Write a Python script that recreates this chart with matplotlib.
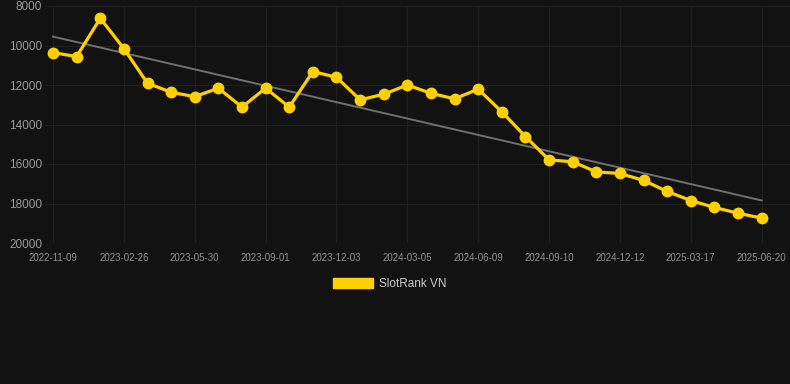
import numpy as np
import matplotlib.pyplot as plt
from matplotlib.patches import Patch

plt.rcParams['font.family'] = ['Liberation Sans', 'DejaVu Sans']

# rank values, one per period (31 points)
ranks = [10360, 10560, 8620, 10160, 11910, 12370, 12590, 12160, 13120, 12160,
         13120, 11320, 11610, 12750, 12470, 12000, 12420, 12700, 12210, 13360,
         14610, 15790, 15890, 16400, 16480, 16830, 17390, 17850, 18200, 18490,
         18740]
tick_labels = ['2022-11-09', '2023-02-26', '2023-05-30', '2023-09-01', '2023-12-03',
               '2024-03-05', '2024-06-09', '2024-09-10', '2024-12-12', '2025-03-17',
               '2025-06-20']
series_name = 'SlotRank VN'

bg = '#121212'
yellow = '#ffd000'

x = np.arange(len(ranks))

fig = plt.figure(figsize=(7.9, 3.84), dpi=100, facecolor=bg)
ax = fig.add_axes([45 / 790, (384 - 243) / 384, 745 / 790, 237 / 384])
ax.set_facecolor(bg)

# trend line
k, b = np.polyfit(x, ranks, 1)
ax.plot(x, k * x + b, color='#707070', lw=1.4, zorder=2)

ax.plot(x, ranks, color=yellow, lw=2.3, marker='o', ms=7.5, zorder=3)

ax.set_xlim(-0.34, 31.2)
ax.set_ylim(20000, 8000)
ax.set_yticks(range(8000, 20001, 2000))
ax.set_xticks(x[::3])
ax.set_xticklabels(tick_labels)

ax.grid(True, color='#202020', lw=0.8)
ax.set_axisbelow(True)
for s in ax.spines.values():
    s.set_visible(False)
ax.tick_params(axis='y', length=0, pad=2, labelsize=8.5, labelcolor='#9a9a9a')
ax.tick_params(axis='x', length=0, pad=7, labelsize=7, labelcolor='#8f8f8f')

leg = fig.legend(handles=[Patch(facecolor=yellow, edgecolor=yellow)], labels=[series_name],
                 loc='center', bbox_to_anchor=(390 / 790, 1 - 284 / 384),
                 frameon=False, fontsize=8.5, handlelength=3.4, handleheight=0.95,
                 handletextpad=0.5)
for t in leg.get_texts():
    t.set_color('#cccccc')

fig.savefig('out.png', dpi=100, facecolor=bg)
